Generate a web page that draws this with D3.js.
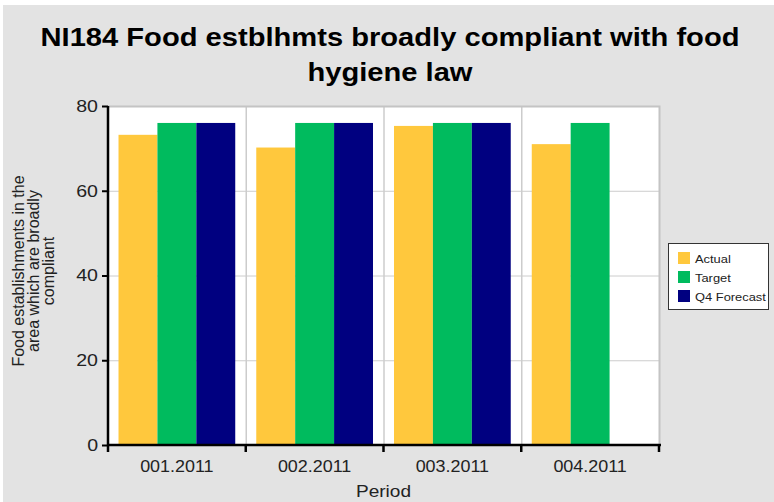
<!DOCTYPE html>
<html>
<head>
<meta charset="utf-8">
<script src="https://cdn.jsdelivr.net/npm/d3@7"></script>
<style>
  html, body { margin: 0; padding: 0; background: #fff; }
  svg { display: block; }
  text { font-family: "Liberation Sans", Arial, sans-serif; }
</style>
</head>
<body>
<svg id="chart" width="774" height="502"></svg>
<script>
// NI184 quarterly figures
const periods = ["001.2011", "002.2011", "003.2011", "004.2011"];
const seriesNames = ["Actual", "Target", "Q4 Forecast"];
const actual = [73.2, 70.2, 75.3, 71.0];
const target = [76, 76, 76, 76];
const forecast = [76, 76, 76, null];
const seriesColors = ["#ffc83d", "#00bb5e", "#000080"];
const yTicks = [0, 20, 40, 60, 80];

const seriesValues = [actual, target, forecast];

const svg = d3.select("#chart");
const W = 774, H = 502;
const WIDEN = 1.12; // horizontal widening of the lettering

// widen a selection of text/tspan elements horizontally
function widen(sel, k = WIDEN) {
  sel.each(function () {
    const len = this.getComputedTextLength();
    d3.select(this).attr("textLength", len * k).attr("lengthAdjust", "spacingAndGlyphs");
  });
}

// background panel with a thin white margin top/left
svg.append("rect").attr("width", W).attr("height", H).attr("fill", "#ffffff");
svg.append("rect").attr("x", 3).attr("y", 5).attr("width", W - 3).attr("height", H - 5).attr("fill", "#e3e3e3");

const plot = { left: 108, right: 659, top: 106, bottom: 445 };

const x = d3.scaleBand().domain(periods).range([plot.left, plot.right]).padding(0);
const xInner = d3.scaleBand().domain(seriesNames)
  .range([0, x.bandwidth()]).paddingOuter(0.27).paddingInner(0);
const y = d3.scaleLinear().domain([0, 80]).range([plot.bottom, plot.top]);

// plot background
svg.append("rect")
  .attr("x", plot.left).attr("y", plot.top)
  .attr("width", plot.right - plot.left).attr("height", plot.bottom - plot.top)
  .attr("fill", "#ffffff");

// horizontal gridlines
svg.append("g").selectAll("line").data(yTicks.filter(d => d > 0 && d < 80)).join("line")
  .attr("x1", plot.left).attr("x2", plot.right)
  .attr("y1", d => y(d) + 0.5).attr("y2", d => y(d) + 0.5)
  .attr("stroke", "#cccccc").attr("stroke-width", 1);

// vertical gridlines at category boundaries
svg.append("g").selectAll("line").data(periods.slice(1)).join("line")
  .attr("x1", d => x(d) + 0.5).attr("x2", d => x(d) + 0.5)
  .attr("y1", plot.top).attr("y2", plot.bottom)
  .attr("stroke", "#cccccc").attr("stroke-width", 1.5);

// plot frame (top and right)
svg.append("path")
  .attr("d", `M${plot.left},${plot.top + 0.5}H${plot.right + 0.5}V${plot.bottom}`)
  .attr("fill", "none").attr("stroke", "#c4c4c4").attr("stroke-width", 2);

// bars
const groups = svg.append("g").selectAll("g").data(periods).join("g")
  .attr("transform", d => `translate(${x(d)},0)`);
groups.selectAll("rect")
  .data((p, i) => seriesNames.map((s, k) => ({ s, k, v: seriesValues[k][i] })).filter(d => d.v != null))
  .join("rect")
  .attr("x", d => xInner(d.s))
  .attr("width", xInner.bandwidth())
  .attr("y", d => y(d.v))
  .attr("height", d => y(0) - y(d.v))
  .attr("fill", d => seriesColors[d.k]);

// y axis
const yAxis = d3.axisLeft(y).tickValues(yTicks).tickSize(6).tickPadding(4);
const gy = svg.append("g").attr("transform", `translate(${plot.left},0)`).call(yAxis);
gy.select(".domain").attr("stroke", "#000").attr("stroke-width", 2.5)
  .attr("d", `M0,${plot.top}V${plot.bottom}`);
gy.selectAll(".tick line").attr("stroke", "#000").attr("stroke-width", 2);
gy.selectAll(".tick text").attr("font-size", 17).attr("fill", "#222")
  .attr("font-family", "Liberation Sans, Arial, sans-serif");
widen(gy.selectAll(".tick text"), 1.15);

// x axis: ticks at category boundaries, labels centered in bands
const gx = svg.append("g").attr("transform", `translate(0,${plot.bottom})`);
gx.append("line").attr("x1", plot.left - 1).attr("x2", plot.right + 2)
  .attr("y1", 0).attr("y2", 0).attr("stroke", "#000").attr("stroke-width", 2.5);
const bounds = periods.map(p => x(p)).concat([x.range()[1]]);
gx.selectAll("line.tk").data(bounds).join("line").attr("class", "tk")
  .attr("x1", d => d).attr("x2", d => d).attr("y1", 0).attr("y2", 7)
  .attr("stroke", "#000").attr("stroke-width", 2.5);
const xLabels = gx.selectAll("text").data(periods).join("text")
  .attr("x", d => x(d) + x.bandwidth() / 2).attr("y", 27)
  .attr("text-anchor", "middle").attr("font-size", 16).attr("fill", "#222")
  .text(d => d);
widen(xLabels);

// axis titles
const xTitle = svg.append("text").attr("x", (plot.left + plot.right) / 2).attr("y", 497)
  .attr("text-anchor", "middle").attr("font-size", 17).attr("fill", "#222").text("Period");
widen(xTitle);

const yTitle = ["Food establishments in the", "area which are broadly", "compliant"];
svg.append("text")
  .attr("transform", "translate(24,271) rotate(-90)")
  .attr("text-anchor", "middle").attr("font-size", 16).attr("fill", "#222")
  .selectAll("tspan").data(yTitle).join("tspan")
  .attr("x", 0).attr("dy", (d, i) => i === 0 ? 0 : 15).text(d => d);

// chart title
const title = ["NI184 Food estblhmts broadly compliant with food", "hygiene law"];
const titleLines = svg.append("text").attr("text-anchor", "middle").attr("font-size", 26)
  .attr("font-weight", "bold").attr("fill", "#000")
  .selectAll("tspan").data(title).join("tspan")
  .attr("x", 390).attr("y", (d, i) => 46 + i * 35).text(d => d);
widen(titleLines);

// legend
const lg = svg.append("g").attr("transform", "translate(668,243)");
lg.append("rect").attr("x", 0.5).attr("y", 0.5).attr("width", 100).attr("height", 66)
  .attr("fill", "#fff").attr("stroke", "#333").attr("stroke-width", 1);
const items = lg.selectAll("g").data(seriesNames).join("g")
  .attr("transform", (d, i) => `translate(10,${9 + i * 19})`);
items.append("rect").attr("width", 12).attr("height", 12)
  .attr("fill", (d, i) => seriesColors[i]);
const legendText = items.append("text").attr("x", 17).attr("y", 10.5).attr("font-size", 11.5)
  .attr("fill", "#222").text(d => d);
widen(legendText);
</script>
</body>
</html>
